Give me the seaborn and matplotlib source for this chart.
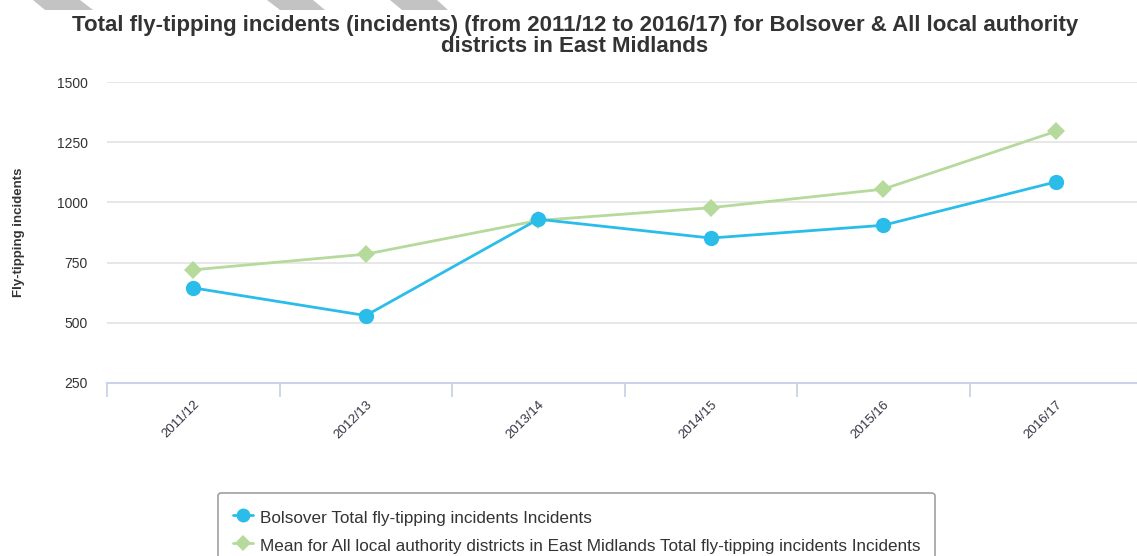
import matplotlib
matplotlib.use("Agg")
import matplotlib.pyplot as plt
from matplotlib.patches import Polygon
from matplotlib.lines import Line2D
import seaborn as sns
import pandas as pd
import numpy as np

years = ["2011/12", "2012/13", "2013/14", "2014/15", "2015/16", "2016/17"]
bolsover = [645, 530, 930, 852, 905, 1085]
east_mid_mean = [720, 785, 925, 978, 1055, 1295]
series_names = ["Bolsover Total fly-tipping incidents Incidents",
                "Mean for All local authority districts in East Midlands Total fly-tipping incidents Incidents"]
yticks = [250, 500, 750, 1000, 1250, 1500]
title_lines = ["Total fly-tipping incidents (incidents) (from 2011/12 to 2016/17) for Bolsover & All local authority",
               "districts in East Midlands"]

sns.set_theme(style="white")
plt.rcParams['font.family'] = ['Liberation Sans', 'DejaVu Sans']

df = pd.DataFrame({
    "year": years * 2,
    "x": list(range(len(years))) * 2,
    "value": bolsover + east_mid_mean,
    "series": [series_names[0]] * len(years) + [series_names[1]] * len(years),
})

W, H = 1137, 556
fig = plt.figure(figsize=(W / 100, H / 100), dpi=100)
ax = fig.add_axes([107 / W, 1 - 383 / H, (1142 - 107) / W, (383 - 82) / H])

blue = "#2BBDEA"
green = "#B5DA9C"
sns.lineplot(data=df, x="x", y="value", hue="series", style="series",
             palette=[blue, green], markers=["o", "D"], dashes=False,
             markersize=11, linewidth=2, markeredgewidth=0, ax=ax, legend=False)
lines = ax.get_lines()
if len(lines) >= 2:
    lines[1].set_markersize(9)
    lines[0].set_zorder(3)

ax.set_xlim(-0.5, len(years) - 0.5)
ax.set_ylim(250, 1500)
ax.set_yticks(yticks)
ax.set_yticklabels([str(v) for v in yticks], fontsize=10, color="#333333")
ax.set_xticks(range(len(years)))
ax.set_xticklabels(years, rotation=45, ha="right", rotation_mode="anchor",
                   fontsize=9.5, color="#333344")
ax.set_xticks(np.arange(-0.5, len(years), 1), minor=True)
ax.tick_params(axis="x", which="major", length=0, pad=11, bottom=True)
ax.tick_params(axis="x", which="minor", length=10, width=1.3, color="#C8D3E6",
               direction="out", bottom=True)
ax.tick_params(axis="y", length=0, pad=14)
ax.grid(axis="y", color="#E3E3E3", linewidth=1.2)
ax.grid(axis="x", visible=False)
for s in ["top", "right", "left"]:
    ax.spines[s].set_visible(False)
ax.spines["bottom"].set_color("#C8D3E6")
ax.spines["bottom"].set_linewidth(1.5)
ax.set_xlabel("")
ax.set_ylabel("Fly-tipping incidents", fontsize=9.5, fontweight="bold", color="#333333")
ax.yaxis.set_label_coords(-82 / (1142 - 107), (383 - 232) / (383 - 82))

fig.text(575 / W, 1 - 26 / H, title_lines[0], ha="center", va="center",
         fontsize=16, fontweight="bold", color="#333333")
fig.text(575 / W, 1 - 47 / H, title_lines[1], ha="center", va="center",
         fontsize=16, fontweight="bold", color="#333333")

# grey stripes at top
for (tl, tr, bl, br) in [(33, 80, 45, 93), (267, 313, 280, 325), (390, 437, 402, 448)]:
    poly = Polygon([(tl / W, 1), (tr / W, 1), (br / W, 1 - 10 / H), (bl / W, 1 - 10 / H)],
                   closed=True, transform=fig.transFigure, facecolor="#C3C3C3", edgecolor="none")
    fig.patches.append(poly)

handles = [Line2D([0], [0], color=blue, marker="o", markersize=10, linewidth=2, markeredgewidth=0),
           Line2D([0], [0], color=green, marker="D", markersize=8, linewidth=2, markeredgewidth=0)]
leg = fig.legend(handles, series_names, loc="upper left",
                 bbox_to_anchor=(218 / W, 1 - 493 / H), fontsize=12.3,
                 frameon=True, fancybox=True, edgecolor="#A0A0A0", framealpha=1,
                 handlelength=1.2, handleheight=1.4, handletextpad=0.4,
                 borderpad=0.85, labelspacing=0.48, borderaxespad=0)
leg.get_frame().set_linewidth(1.2)
for t in leg.get_texts():
    t.set_color("#333333")

fig.savefig("out.png", dpi=100)
